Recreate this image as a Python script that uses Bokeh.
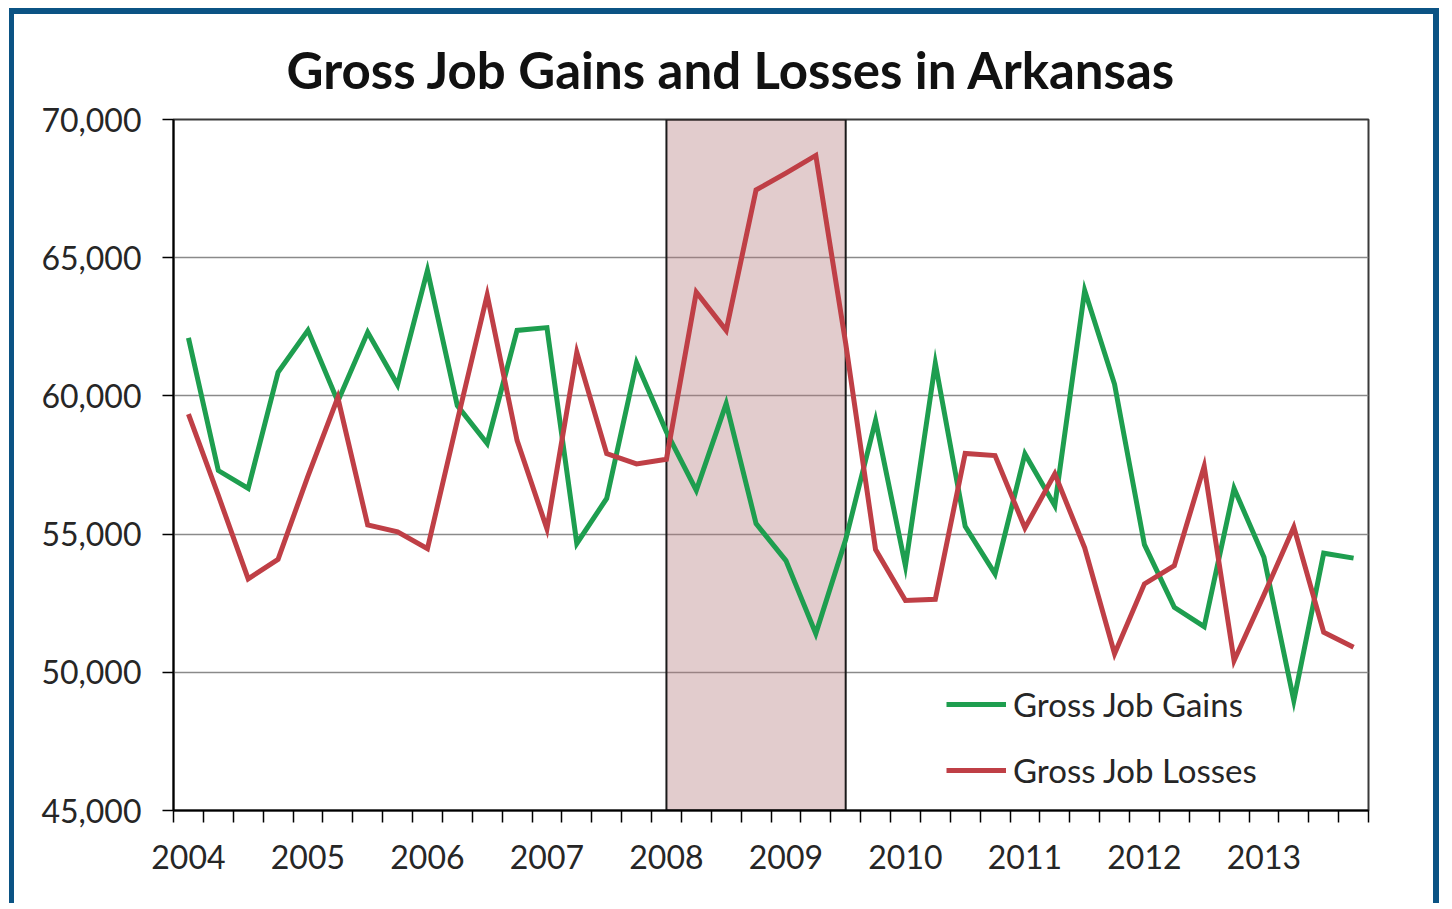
from bokeh.plotting import figure
from bokeh.models import (BoxAnnotation, FixedTicker, NumeralTickFormatter,
                          Legend, LegendItem, Title)
from bokeh.embed import file_html
from bokeh.resources import INLINE

# ---------------- data ----------------
years = list(range(2004, 2014))
quarters = [f"{y} Q{q}" for y in years for q in (1, 2, 3, 4)]
year_labels = [str(y) for y in years]

gross_job_gains = [62100, 57300, 56650, 60850, 62370, 59800, 62300, 60400,
                   64540, 59650, 58280, 62370, 62470, 54660, 56290, 61200,
                   58700, 56580, 59720, 55380, 54040, 51400, 54800, 59110,
                   53850, 61180, 55280, 53560, 57900, 56030, 63810, 60420,
                   54620, 52350, 51650, 56650, 54160, 48980, 54310, 54130]

gross_job_losses = [59340, 56400, 53380, 54090, 57100, 59940, 55330, 55080,
                    54470, 59100, 63650, 58390, 55190, 61580, 57910, 57540,
                    57710, 63750, 62370, 67450, 68060, 68700, 61900, 54440,
                    52600, 52640, 57920, 57840, 55220, 57180, 54500, 50670,
                    53200, 53860, 57450, 50420, 52800, 55250, 51450, 50910]

recession_start = "2008 Q1"
recession_end = "2009 Q3"

y_ticks = [45000, 50000, 55000, 60000, 65000, 70000]

# ---------------- styling ----------------
FONT = "Lato"
TEXT = "#262626"
GREEN = "#1E9E4F"
RED = "#BF3F46"
BLUE = "#0B5384"

n = len(quarters)
xs = [i + 0.5 for i in range(n)]

p = figure(width=1430, height=895, x_range=(0, n), y_range=(y_ticks[0], y_ticks[-1]),
           output_backend="svg", toolbar_location=None,
           min_border_left=159, min_border_right=76,
           min_border_top=105, min_border_bottom=99)
p.styles = {"margin-left": "9px", "margin-top": "8px",
            "border-top": f"6px solid {BLUE}",
            "border-left": f"5px solid {BLUE}",
            "border-right": f"6px solid {BLUE}"}

p.background_fill_color = "white"
p.border_fill_color = "white"
p.outline_line_color = "#3a3a3a"
p.outline_line_width = 2

title = Title(text="Gross Job Gains and Losses in Arkansas", align="left",
              text_font=FONT, text_font_style="bold", text_font_size="51px",
              text_color="#111111", offset=113, standoff=40)
p.add_layout(title, "above")

# recession shading
i0 = quarters.index(recession_start) + 0.5
i1 = quarters.index(recession_end) + 0.5
box = BoxAnnotation(left=i0, right=i1, fill_color="#B4787C", fill_alpha=0.38,
                    line_color="#1a1a1a", line_alpha=1.0, line_width=2,
                    level="underlay")
p.add_layout(box)

# lines
r_gain = p.line(xs, gross_job_gains, line_color=GREEN, line_width=5, line_join="miter")
r_loss = p.line(xs, gross_job_losses, line_color=RED, line_width=5, line_join="miter")

# axes
label_pos = [quarters.index(f"{y} Q1") + 0.5 for y in years]
p.xaxis.ticker = FixedTicker(ticks=label_pos, minor_ticks=list(range(0, n + 1)))
p.xaxis.major_label_overrides = {pos: lab for pos, lab in zip(label_pos, year_labels)}
p.xaxis.major_tick_out = 0
p.xaxis.major_tick_in = 0
p.xaxis.minor_tick_out = 12
p.xaxis.minor_tick_in = 0
p.xaxis.minor_tick_line_color = "black"
p.xaxis.minor_tick_line_width = 1.5
p.xaxis.axis_line_color = "black"
p.xaxis.axis_line_width = 2
p.xaxis.major_label_standoff = 22

p.yaxis.ticker = FixedTicker(ticks=y_ticks)
p.yaxis.formatter = NumeralTickFormatter(format="0,0")
p.yaxis.major_tick_out = 11
p.yaxis.major_tick_in = 0
p.yaxis.minor_tick_line_color = None
p.yaxis.major_tick_line_color = "black"
p.yaxis.major_tick_line_width = 1.5
p.yaxis.axis_line_color = "black"
p.yaxis.axis_line_width = 2
p.yaxis.major_label_standoff = 21

for ax in (p.xaxis, p.yaxis):
    ax.major_label_text_font = FONT
    ax.major_label_text_font_size = "32px"
    ax.major_label_text_color = TEXT

p.xgrid.visible = False
p.ygrid.ticker = FixedTicker(ticks=y_ticks)
p.ygrid.grid_line_color = "#8a8a8a"
p.ygrid.grid_line_width = 1.5

legend = Legend(items=[LegendItem(label="Gross Job Gains", renderers=[r_gain]),
                       LegendItem(label="Gross Job Losses", renderers=[r_loss])],
                location=(773, 20), orientation="vertical",
                glyph_width=60, glyph_height=40, label_height=40,
                label_standoff=7, spacing=26, padding=0, margin=0,
                border_line_color=None, background_fill_alpha=0,
                label_text_font=FONT, label_text_font_size="33px",
                label_text_color=TEXT)
p.add_layout(legend)

open("out.html", "w").write(file_html(p, INLINE))
